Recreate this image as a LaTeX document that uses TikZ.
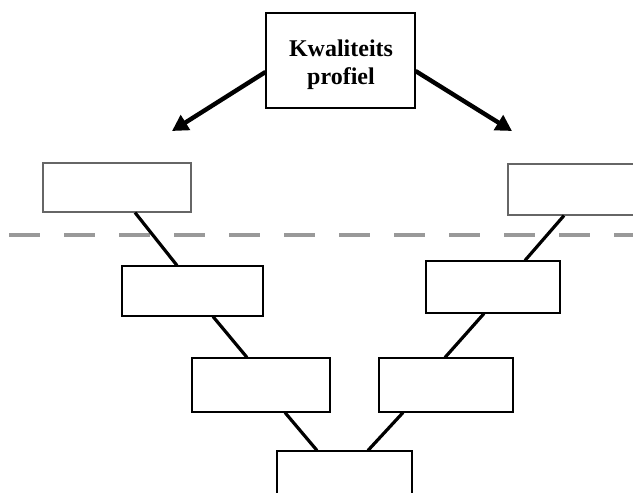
\documentclass[tikz,border=0pt]{standalone}
\usepackage{fontspec}
\setmainfont{Liberation Serif}
\usetikzlibrary{arrows.meta}
\definecolor{dashgray}{HTML}{999999}
\definecolor{boxgray}{HTML}{666666}
\begin{document}
\begin{tikzpicture}[x=1pt,y=-1pt,
  box/.style={draw=black,line width=1.1pt,fill=white,inner sep=0pt,minimum width=#1},
  box/.default=140pt,
  graybox/.style={box=#1,draw=boxgray},
  graybox/.default=140pt,
  conn/.style={line width=3.2pt,black},
  bigarrow/.style={line width=4.4pt,black,-{Triangle[length=16pt,width=17pt]}},
  sep/.style={dashgray,line width=3.5pt,dash pattern=on 31pt off 24pt}]
\useasboundingbox (0,0) rectangle (633,493);
\clip (0,0) rectangle (633,493);
% separator
\coordinate (d1) at (9,235);
\coordinate (d2) at (640,235);
\draw[sep] (d1) -- (d2);
% boxes
\node[box=149pt,minimum height=95pt] (top) at (340.5,60.5) {};
\node[font=\bfseries\fontsize{24}{28}\selectfont,align=center,inner sep=0pt] (lbl) at (341,65) {Kwaliteits\\profiel};
\node[graybox=148pt,minimum height=49pt] (lt) at (117,187.5) {};
\node[graybox=137pt,minimum height=51pt] (rt) at (576.5,189.5) {};
\node[box=141pt,minimum height=50pt] (l2) at (192.5,291) {};
\node[box=134pt,minimum height=52pt] (r2) at (493,287) {};
\node[box=138pt,minimum height=54pt] (l3) at (261,385) {};
\node[box=134pt,minimum height=54pt] (r3) at (446,385) {};
\node[box=135pt,minimum height=50pt] (bot) at (344.5,476) {};
% arrows
\coordinate (tipL) at (172,131);
\coordinate (tipR) at (512,131);
\draw[bigarrow] ([yshift=-11.5pt]top.west) -- (tipL);
\draw[bigarrow] ([yshift=-10.5pt]top.east) -- (tipR);
% connectors
\draw[conn] ([xshift=18pt]lt.south) -- ([xshift=-15.5pt]l2.north);
\draw[conn] ([xshift=20.5pt]l2.south) -- ([xshift=-14pt]l3.north);
\draw[conn] ([xshift=24pt]l3.south) -- ([xshift=-27.5pt]bot.north);
\draw[conn] ([xshift=-12.5pt]rt.south) -- ([xshift=32pt]r2.north);
\draw[conn] ([xshift=-9pt]r2.south) -- ([xshift=-1pt]r3.north);
\draw[conn] ([xshift=-43pt]r3.south) -- ([xshift=23.5pt]bot.north);
\end{tikzpicture}
\end{document}
